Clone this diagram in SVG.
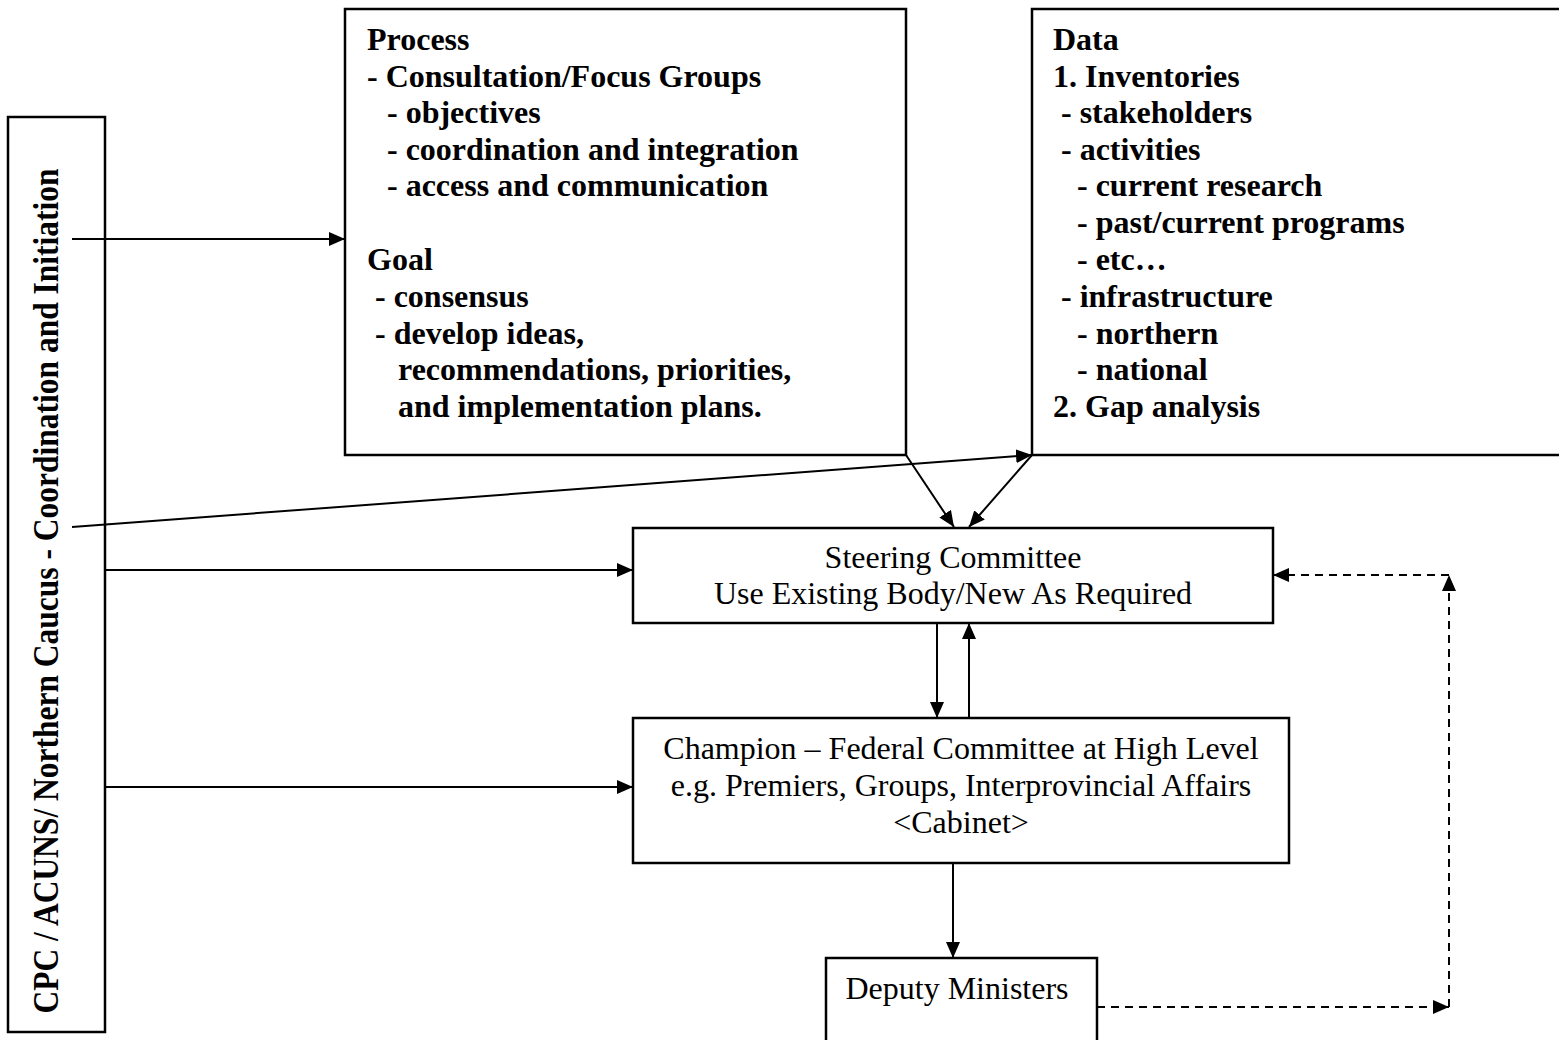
<svg xmlns="http://www.w3.org/2000/svg" width="1559" height="1040" viewBox="0 0 1559 1040">
<style>
.box{fill:#fff;stroke:#000;stroke-width:2.5}
.b{font-family:"Liberation Serif","Times New Roman",serif;font-size:32px;font-weight:bold;fill:#000}
.r{font-family:"Liberation Serif","Times New Roman",serif;font-size:32px;fill:#000;text-anchor:middle}
.ln{fill:none;stroke:#000;stroke-width:2}
.dash{fill:none;stroke:#000;stroke-width:2;stroke-dasharray:8,6}
</style>
<defs>
<marker id="ah" viewBox="0 0 16 14" refX="16" refY="7" markerWidth="16" markerHeight="14" markerUnits="userSpaceOnUse" orient="auto">
<path d="M0,0 L16,7 L0,14 z" fill="#000"/>
</marker>
</defs>
<rect width="1559" height="1040" fill="#fff"/>
<g id="left">
<rect class="box" x="8" y="117" width="97" height="915"/>
<text class="b" style="font-size:31.5px" text-anchor="middle" transform="translate(58,591) rotate(-90) scale(1,1.12)">CPC / ACUNS/ Northern Caucus - Coordination and Initiation</text>
</g>
<g id="process">
<rect class="box" x="345" y="9" width="561" height="446"/>
<text class="b">
<tspan x="367" y="50">Process</tspan>
<tspan x="367" y="87">- Consultation/Focus Groups</tspan>
<tspan x="387" y="123">- objectives</tspan>
<tspan x="387" y="160">- coordination and integration</tspan>
<tspan x="387" y="196">- access and communication</tspan>
<tspan x="367" y="270">Goal</tspan>
<tspan x="375" y="307">- consensus</tspan>
<tspan x="375" y="344">- develop ideas,</tspan>
<tspan x="398" y="380">recommendations, priorities,</tspan>
<tspan x="398" y="417">and implementation plans.</tspan>
</text>
</g>
<g id="data">
<rect class="box" x="1032" y="9" width="540" height="446"/>
<text class="b">
<tspan x="1053" y="50">Data</tspan>
<tspan x="1053" y="87">1. Inventories</tspan>
<tspan x="1061" y="123">- stakeholders</tspan>
<tspan x="1061" y="160">- activities</tspan>
<tspan x="1077" y="196">- current research</tspan>
<tspan x="1077" y="233">- past/current programs</tspan>
<tspan x="1077" y="270">- etc…</tspan>
<tspan x="1061" y="307">- infrastructure</tspan>
<tspan x="1077" y="344">- northern</tspan>
<tspan x="1077" y="380">- national</tspan>
<tspan x="1053" y="417">2. Gap analysis</tspan>
</text>
</g>
<g id="steering">
<rect class="box" x="633" y="528" width="640" height="95"/>
<text class="r"><tspan x="953" y="568">Steering Committee</tspan><tspan x="953" y="604">Use Existing Body/New As Required</tspan></text>
</g>
<g id="champion">
<rect class="box" x="633" y="718" width="656" height="145"/>
<text class="r"><tspan x="961" y="759">Champion – Federal Committee at High Level</tspan><tspan x="961" y="796">e.g. Premiers, Groups, Interprovincial Affairs</tspan><tspan x="961" y="833">&lt;Cabinet&gt;</tspan></text>
</g>
<g id="deputy">
<rect class="box" x="826" y="958" width="271" height="100"/>
<text class="r" x="957" y="999">Deputy Ministers</text>
</g>
<g id="connectors">
<line class="ln" x1="72" y1="239" x2="345" y2="239" marker-end="url(#ah)"/>
<line class="ln" x1="72" y1="527" x2="1032" y2="455" marker-end="url(#ah)"/>
<line class="ln" x1="105" y1="570" x2="633" y2="570" marker-end="url(#ah)"/>
<line class="ln" x1="105" y1="787" x2="633" y2="787" marker-end="url(#ah)"/>
<line class="ln" x1="906" y1="455" x2="954" y2="527" marker-end="url(#ah)"/>
<line class="ln" x1="1032" y1="455" x2="969" y2="527" marker-end="url(#ah)"/>
<line class="ln" x1="937" y1="623" x2="937" y2="718" marker-end="url(#ah)"/>
<line class="ln" x1="969" y1="718" x2="969" y2="623" marker-end="url(#ah)"/>
<line class="ln" x1="953" y1="863" x2="953" y2="958" marker-end="url(#ah)"/>
<line class="dash" x1="1097" y1="1007" x2="1449" y2="1007" marker-end="url(#ah)"/>
<line class="dash" x1="1449" y1="1007" x2="1449" y2="575" marker-end="url(#ah)"/>
<line class="dash" x1="1449" y1="575" x2="1273" y2="575" marker-end="url(#ah)"/>
</g>
</svg>
